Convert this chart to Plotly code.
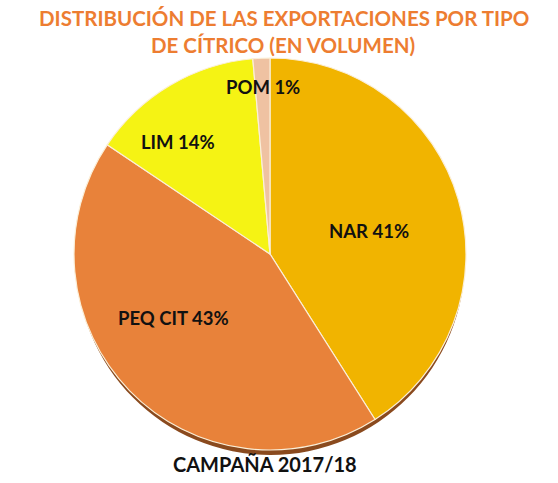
import plotly.graph_objects as go

categories = ["NAR", "PEQ CIT", "LIM", "POM"]
values = [41.0, 43.4, 14.2, 1.4]
shown_pct = ["41%", "43%", "14%", "1%"]
colors = ["#F1B400", "#E8823A", "#F5F314", "#EFC2A2"]

title_lines = ["DISTRIBUCIÓN DE LAS EXPORTACIONES POR TIPO", "DE CÍTRICO (EN VOLUMEN)"]
footer = "CAMPAÑA 2017/18"

W, H = 558, 483
cx, cy, r = 270, 254, 196

# label anchor points (pixel positions in the reference picture)
label_pos = [(369, 231), (173, 318), (178, 142), (263, 87)]
title_pos = [(284, 18), (283, 45)]


def px(x):
    return x / W


def py(y):
    return 1 - y / H


texts = [f"<b>{c} {p}</b>" for c, p in zip(categories, shown_pct)]

fig = go.Figure()
fig.add_trace(go.Pie(
    labels=categories,
    values=values,
    textinfo="none",
    sort=False,
    direction="clockwise",
    rotation=0,
    marker=dict(colors=colors, line=dict(color="#FBEFD8", width=1.2)),
    domain=dict(x=[(cx - r) / W, (cx + r) / W], y=[1 - (cy + r) / H, 1 - (cy - r) / H]),
    showlegend=False,
    hoverinfo="label+percent",
))

# 3D rim shadow under the pie
fig.add_shape(type="circle", xref="paper", yref="paper",
              x0=(cx - r + 2) / W, x1=(cx + r - 1) / W,
              y0=1 - (cy + r + 5) / H, y1=1 - (cy - r + 5) / H,
              fillcolor="#8A4A1E", line=dict(width=0), layer="below")

for t, (x, y) in zip(texts, label_pos):
    fig.add_annotation(text=t, xref="paper", yref="paper",
                       x=px(x), y=py(y), xanchor="center", yanchor="middle", showarrow=False,
                       font=dict(family="Lato", size=18.5, color="#111111"))

for line, (x, y) in zip(title_lines, title_pos):
    fig.add_annotation(text="<b>" + line + "</b>", xref="paper", yref="paper",
                       x=px(x), y=py(y), xanchor="center", yanchor="middle", showarrow=False,
                       font=dict(family="Lato", size=20.5, color="#ED7D31"))

fig.add_annotation(text="<b>" + footer + "</b>", xref="paper", yref="paper",
                   x=px(265), y=py(464), xanchor="center", yanchor="middle", showarrow=False,
                   font=dict(family="Lato", size=20, color="#111111"))

fig.update_layout(width=W, height=H, margin=dict(l=0, r=0, t=0, b=0),
                  paper_bgcolor="white", plot_bgcolor="white")
fig.write_html("out.html", config={"displayModeBar": False},
               post_script="document.body.style.margin='0';")
